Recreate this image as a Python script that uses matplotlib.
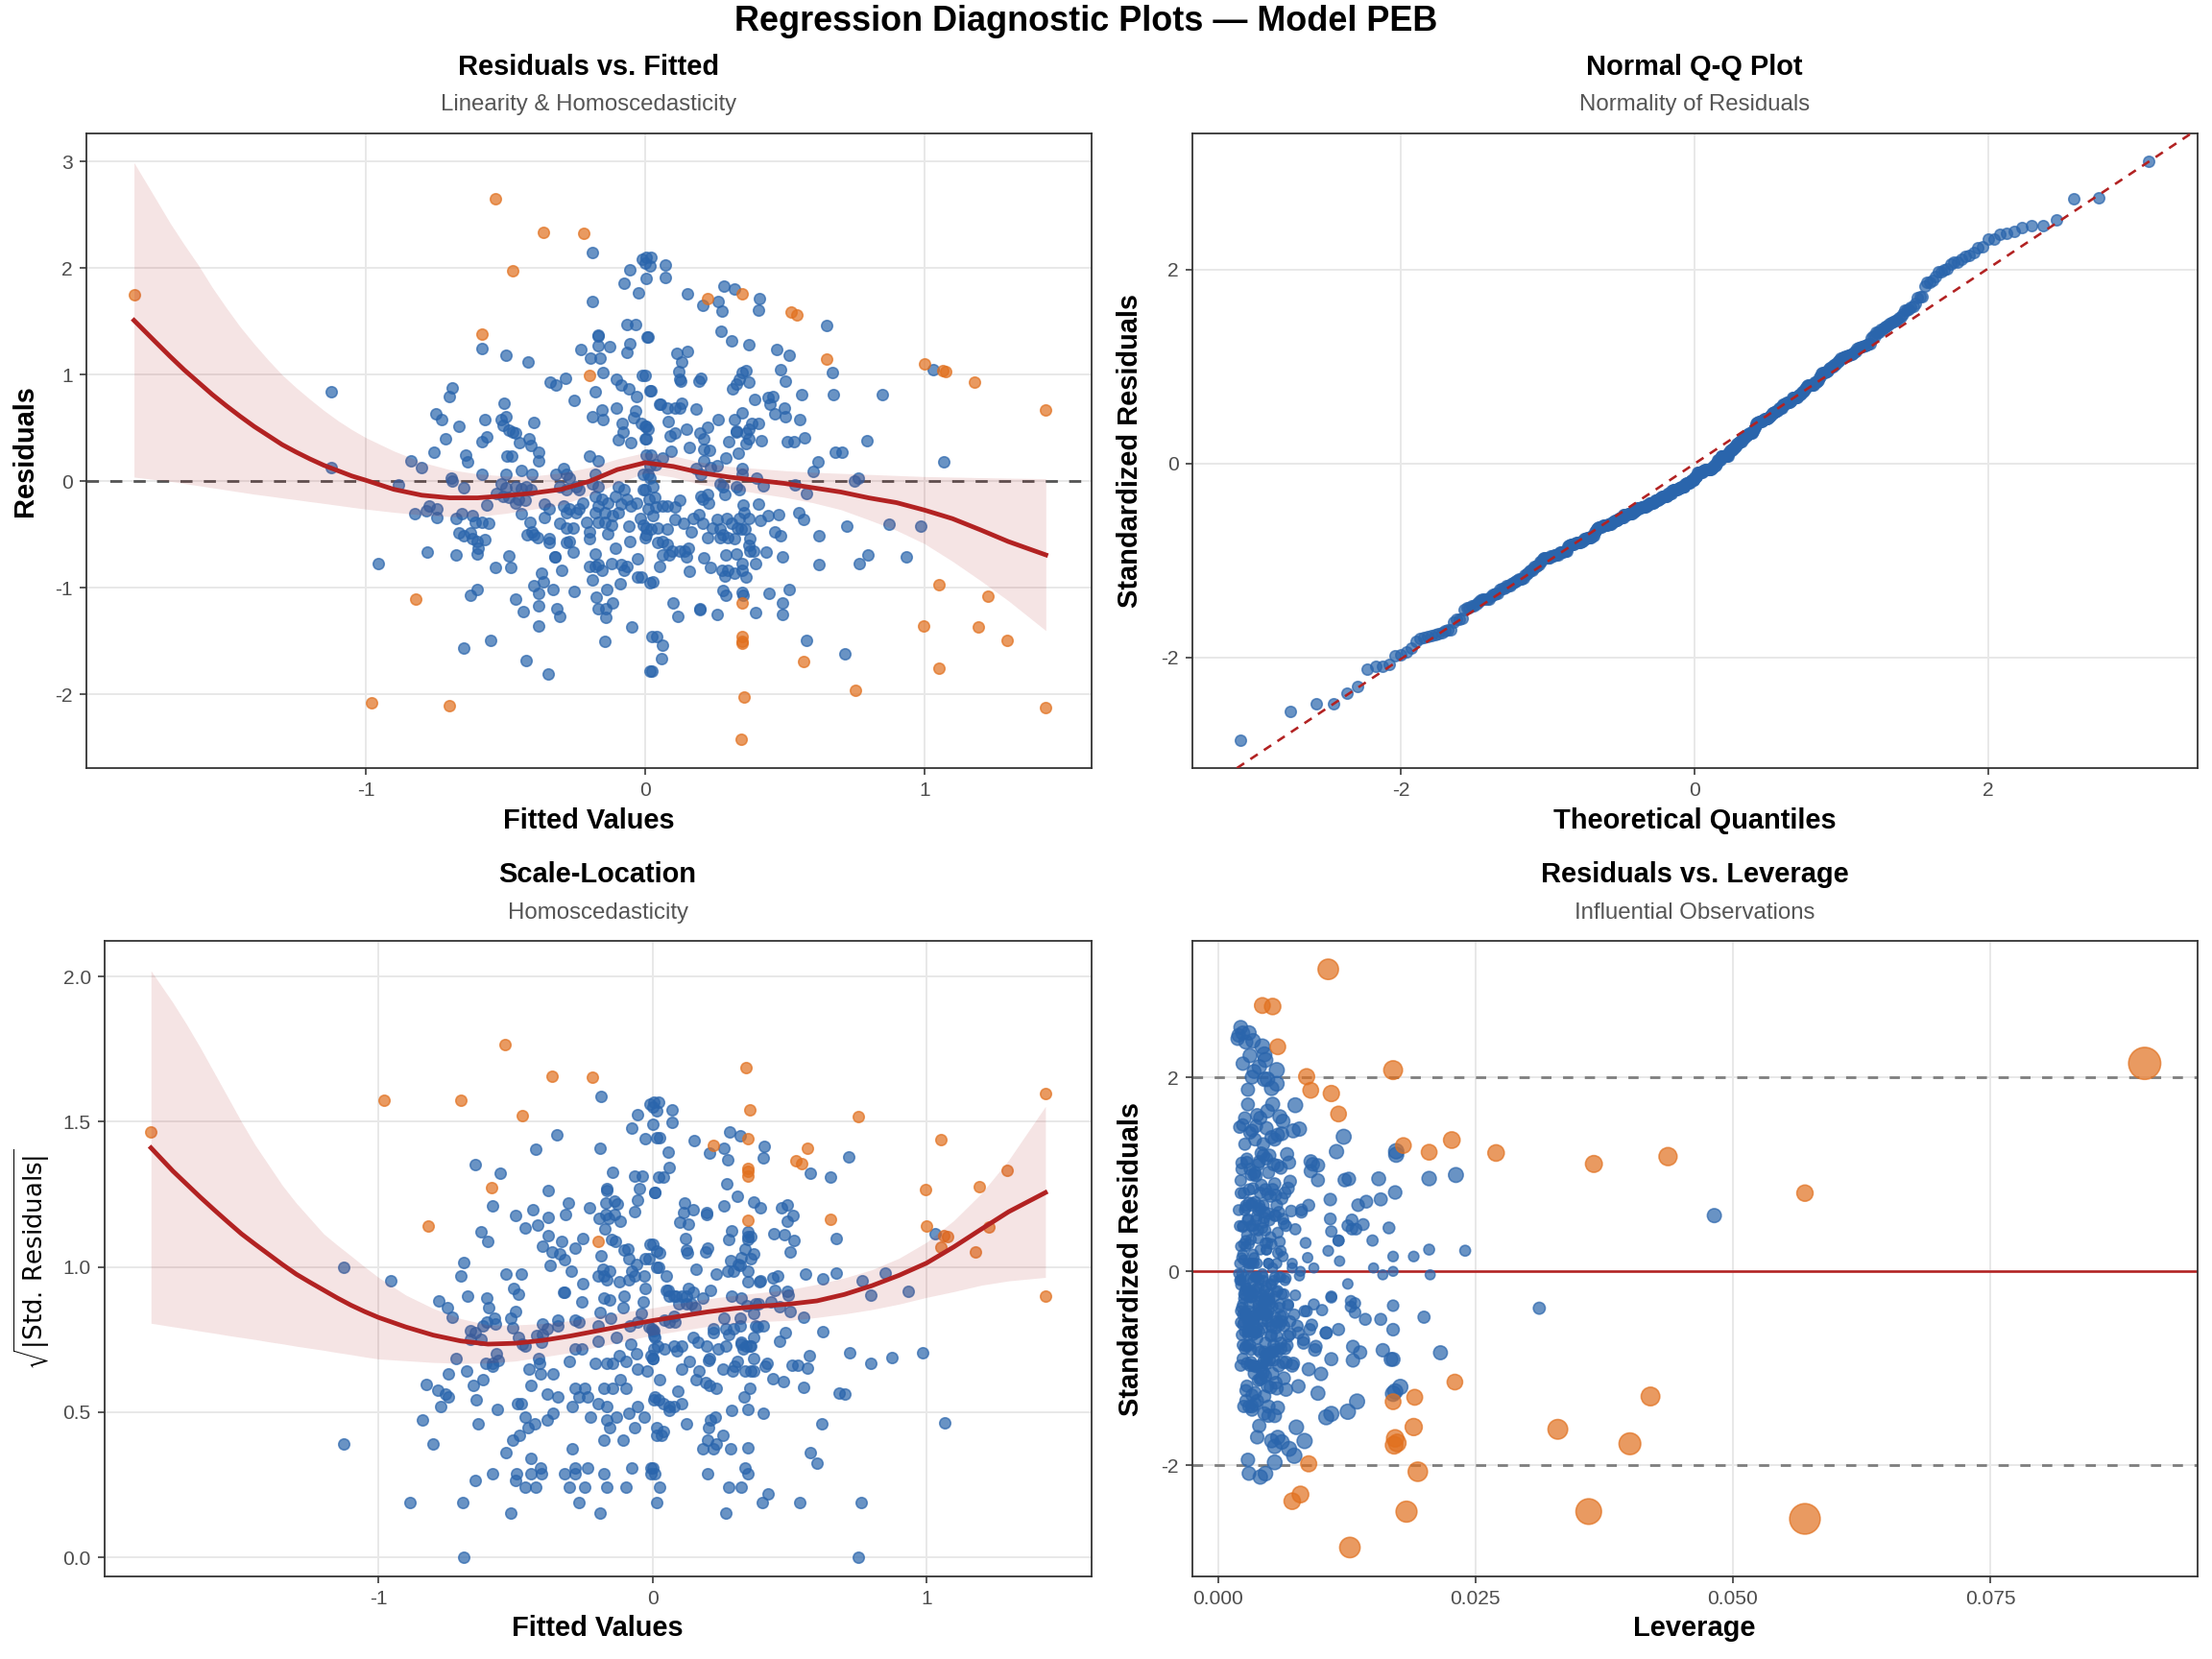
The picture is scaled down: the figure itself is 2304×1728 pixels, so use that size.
import numpy as np
import matplotlib
matplotlib.use("Agg")
import matplotlib.pyplot as plt
from matplotlib.ticker import FormatStrFormatter
from statistics import NormalDist

plt.rcParams['font.family'] = ['Liberation Sans', 'DejaVu Sans']
plt.rcParams['axes.unicode_minus'] = False
plt.rcParams['mathtext.fontset'] = 'dejavusans'

BLUE = '#2A65AC'
ORANGE = '#E1701E'
RED = '#B22222'

# observations: fitted value, raw residual, leverage (hat value)
fitted = [
    -1.83, -0.537, -0.366, -0.22, -0.474, -0.586, -0.20, 0.222, 0.348, 0.522,
    0.543, 0.648, 1.00, 1.064, 1.077, 1.179, 1.434, 0.343, -0.98, -0.70,
    0.355, 0.752, 1.051, 0.566, 0.348, 0.348, 0.348, 1.295, 1.194, 0.998,
    0.348, -0.82, 1.227, 1.053, 1.434,
    -0.188, -0.01, 0.005, 0.022, 0.016, 0.0, 0.073, 0.071, 0.002, -0.055,
    -0.076, -0.025, -0.19, -0.066, -0.036, 0.007, -0.167, -0.167, -0.584, -0.50,
    -0.42, -0.23, -0.17, -0.127, -0.195, -0.16, -0.056, -0.064, -0.15, -0.01,
    0.016, -0.34, -0.32, -0.284, -0.104, -0.087, -0.058, -0.03, -0.18, -0.69,
    -0.70, -0.254, -0.104, -0.033, -0.041, -0.013, 0.005, -0.19, -0.156, -0.153,
    -0.084, -0.078, -0.098, -0.053, 0.0, -0.507, -0.75, -0.73, -0.666, -0.575,
    -0.517, -0.50, -0.51, -0.488, -0.465, -0.476, -0.40, -0.568, -0.585, -0.716,
    -0.416, -0.408, -0.383, -0.383, -0.45, -0.757, -0.643, -0.635, -0.494, -0.479,
    -0.84, -0.80, -0.584, -0.694, -0.69, -0.648, -0.497, -0.444, -0.404, -0.517,
    -0.499, -0.465, -0.442, -0.425, -0.408, -0.487, -0.454, -0.431, -0.465, -0.534,
    -0.51, -0.362, -0.345, -0.32, -0.293, -0.282, -0.27, -0.305, -0.282, -0.247,
    -0.236, -0.293, -0.27, -0.282, -0.236, -0.259, -0.282, -0.305, -0.27, -0.282,
    -0.362, -0.259, -0.322, -0.298, -0.198, -0.167, -0.178, -0.19, -0.167, -0.178,
    -0.156, -0.133, -0.167, -0.144, -0.116, -0.178, -0.121, -0.133, -0.167, -0.144,
    -0.098, -0.076, -0.064, -0.098, -0.053, -0.03, -0.007, 0.01, 0.016, 0.005,
    -0.20, -0.178, -0.167, -0.178, -0.199, -0.156, -0.108, -0.056, -0.026, -0.013,
    -0.121, -0.087, -0.076, -0.064, -0.089, -0.136, -0.188, -0.253, -0.175, -0.17,
    -0.14, -0.116, -0.14, -0.047, -0.144, 0.023, 0.016, -0.348, -0.426, -0.554,
    -0.648, -0.625, -0.60, -0.465, -0.436, -0.40, -0.38, -0.373, -0.365, -0.381,
    -0.331, -0.316, -0.307, -0.38, -0.536, -0.48, -0.488, -0.78, -0.676, -0.603,
    -0.597, -0.603, -0.574, -0.62, -0.625, -0.648, -0.666, -0.677, -0.655, -0.62,
    -0.608, -0.585, -0.562, -0.566, -0.824, -0.782, -0.774, -0.746, -0.746, -0.885,
    -0.954, -0.442, -0.411, -0.405, -0.422, -0.40, -0.385, -0.345, -0.345, -0.324,
    -0.225, -0.247, -0.108, -0.087, -0.21, -0.20, -0.058, -0.018, -0.027, 0.014,
    0.01, 0.02, 0.005, -0.007, 0.016, -1.125, -1.125,
    0.151, 0.207, 0.28, 0.32, 0.262, 0.274, 0.409, 0.405, 0.648, 0.271,
    0.308, 0.371, 0.009, 0.472, 0.514, 0.671, 0.672, 0.85, 0.113, 0.13,
    0.15, 0.119, 0.128, 0.125, 0.194, 0.20, 0.0, 0.022, 0.483, 0.503,
    0.314, 0.325, 0.337, 0.348, 0.36, 0.371, 0.39, 0.44, 0.457, 0.445,
    0.463, 0.497, 0.503, 0.56, 0.552, 0.05, 0.056, 0.079, 0.108, 0.125,
    0.13, 0.182, 0.081, 0.0, 0.01, 0.002, 0.09, 0.108, 0.148, 0.26,
    0.222, 0.32, 0.346, 0.383, 0.406, 0.325, 0.325, 0.197, 0.209, 0.36,
    0.371, 0.299, 0.36, 0.371, 0.417, 0.159, 0.208, 0.231, 0.334, 0.289,
    0.509, 0.532, 0.572, 0.795, 0.68, 0.703, 0.617, 0.60, 0.75, 0.763,
    0.094, 0.022, 0.062, 0.039, 0.211, 0.257, 0.234, 0.182, 0.20, 0.348,
    0.348, 0.40, 0.277, 0.285, 0.268, 0.325, 0.337, 0.423, 0.537, 0.577,
    0.0, 0.027, 0.016, -0.007, 0.20, 0.222, 0.228, 0.205, 0.033, 0.039,
    0.062, 0.079, 0.108, 0.125, 0.027, 0.35, 0.354, 0.337, 0.371, 0.342,
    0.357, 0.376, 0.405, 0.411, 0.44, 0.478, 0.551, 0.566, 0.171, 0.194,
    0.165, 0.108, 0.136, 0.205, 0.257, 0.291, 0.308, 0.331, 0.239, 0.268,
    0.279, 0.297, 0.319, 0.222, 0.268, 0.005, -0.001, 0.045, 0.079, 0.062,
    0.045, 0.079, 0.096, 0.125, 0.154, 0.062, 0.085, 0.148, 0.142, 0.05,
    0.159, 0.211, 0.234, 0.274, 0.285, 0.297, 0.32, 0.348, 0.36, 0.289,
    0.325, 0.394, 0.348, 0.371, 0.388, 0.376, 0.432, 0.491, 0.463, 0.486,
    0.621, 0.621, 0.72, 0.798, 0.766, 0.873, 0.935, 0.985, 0.027, 0.279,
    0.289, 0.348, 0.35, 0.443, 0.516, 0.491, 0.491, 0.394, 0.259, 0.197,
    0.197, 0.10, 0.117, 0.577, 0.715, 0.041, 0.062, 0.058, 0.025, 1.03,
    1.068,
]

resid = [
    1.75, 2.65, 2.34, 2.33, 1.975, 1.38, 0.99, 1.71, 1.76, 1.59,
    1.56, 1.145, 1.10, 1.04, 1.03, 0.93, 0.67, -2.42, -2.08, -2.10,
    -2.02, -1.96, -1.75, -1.69, -1.46, -1.50, -1.52, -1.49, -1.37, -1.36,
    -1.14, -1.10, -1.08, -0.965, -2.12,
    2.15, 2.08, 2.10, 2.10, 2.02, 2.05, 2.03, 1.91, 1.90, 1.98,
    1.86, 1.77, 1.69, 1.47, 1.47, 1.35, 1.375, 1.36, 1.25, 1.18,
    1.12, 1.24, 1.27, 1.26, 1.16, 1.16, 1.29, 1.21, 1.02, 0.99,
    0.85, 0.93, 0.90, 0.965, 0.956, 0.90, 0.87, 0.80, 0.84, 0.88,
    0.80, 0.76, 0.69, 0.66, 0.60, 0.54, 0.52, 0.605, 0.67, 0.58,
    0.54, 0.46, 0.39, 0.36, 0.40, 0.73, 0.63, 0.58, 0.52, 0.58,
    0.58, 0.61, 0.53, 0.48, 0.45, 0.46, 0.55, 0.42, 0.37, 0.40,
    0.40, 0.34, 0.27, 0.19, 0.36, 0.27, 0.25, 0.18, 0.24, 0.24,
    0.19, 0.13, 0.07, 0.03, 0.0, -0.06, 0.07, 0.10, 0.07, -0.02,
    -0.06, -0.05, -0.07, -0.05, -0.08, -0.15, -0.17, -0.18, -0.20, -0.11,
    -0.14, -0.21, -0.26, 0.07, 0.12, 0.07, 0.03, -0.05, -0.08, -0.05,
    -0.08, -0.23, -0.26, -0.29, -0.26, -0.44, -0.44, -0.39, -0.56, -0.57,
    -0.34, -0.66, -0.71, -0.83, 0.24, 0.19, 0.07, -0.02, -0.05, -0.14,
    -0.17, -0.20, -0.23, -0.29, -0.32, -0.29, -0.41, -0.49, -0.38, -0.38,
    -0.05, -0.08, -0.17, -0.29, -0.23, -0.20, -0.08, 0.07, 0.15, 0.25,
    -0.54, -0.68, -0.78, -0.80, -0.80, -0.83, -0.63, -0.56, -0.73, -0.90,
    -0.77, -0.78, -0.83, -0.80, -0.96, -1.01, -0.92, -1.03, -1.09, -1.19,
    -1.19, -1.14, -1.28, -1.37, -1.50, -1.46, -1.78, -1.81, -1.68, -1.49,
    -1.56, -1.07, -1.01, -1.10, -1.22, -0.98, -1.05, -0.86, -0.94, -1.17,
    -1.01, -1.19, -1.27, -1.36, -0.81, -0.81, -0.70, -0.66, -0.69, -0.68,
    -0.63, -0.56, -0.55, -0.54, -0.48, -0.51, -0.48, -0.35, -0.30, -0.32,
    -0.38, -0.38, -0.39, -0.22, -0.30, -0.28, -0.23, -0.26, -0.34, -0.03,
    -0.77, -0.30, -0.38, -0.47, -0.50, -0.50, -0.53, -0.57, -0.54, -0.71,
    -0.20, -0.29, -0.14, -0.21, -0.38, -0.47, -0.42, -0.35, -0.90, -0.17,
    -0.26, -0.45, -0.50, -0.41, -0.95, 0.84, 0.13,
    1.76, 1.65, 1.83, 1.80, 1.69, 1.60, 1.71, 1.61, 1.46, 1.41,
    1.32, 1.28, 1.35, 1.235, 1.18, 1.02, 0.81, 0.81, 1.20, 1.12,
    1.22, 1.03, 0.94, 0.955, 0.94, 0.965, 0.99, 0.85, 1.05, 0.94,
    0.87, 0.91, 0.96, 1.02, 1.04, 0.93, 0.77, 0.79, 0.80, 0.72,
    0.63, 0.69, 0.61, 0.81, 0.58, 0.72, 0.72, 0.69, 0.69, 0.69,
    0.73, 0.68, 0.56, 0.52, 0.49, 0.40, 0.43, 0.45, 0.49, 0.58,
    0.51, 0.58, 0.64, 0.54, 0.54, 0.46, 0.47, 0.45, 0.40, 0.45,
    0.49, 0.37, 0.35, 0.40, 0.38, 0.32, 0.30, 0.29, 0.26, 0.22,
    0.37, 0.37, 0.41, 0.38, 0.27, 0.27, 0.18, 0.09, 0.0, 0.03,
    0.28, 0.25, 0.22, 0.16, 0.19, 0.15, 0.13, 0.12, 0.07, 0.12,
    0.07, 0.03, -0.05, -0.12, -0.02, -0.05, -0.08, -0.04, -0.03, -0.11,
    -0.08, -0.05, 0.03, 0.07, -0.14, -0.12, -0.20, -0.17, -0.15, -0.24,
    -0.23, -0.23, -0.24, -0.18, -0.32, -0.22, -0.29, -0.35, -0.35, -0.45,
    -0.45, -0.54, -0.21, -0.37, -0.32, -0.31, -0.29, -0.36, -0.35, -0.31,
    -0.47, -0.36, -0.39, -0.39, -0.36, -0.35, -0.39, -0.44, -0.44, -0.45,
    -0.50, -0.53, -0.54, -0.53, -0.53, -0.44, -0.53, -0.44, -0.45, -0.56,
    -0.57, -0.59, -0.65, -0.65, -0.63, -0.69, -0.69, -0.71, -0.65, -0.80,
    -0.84, -0.72, -0.81, -0.83, -0.89, -0.83, -0.86, -0.83, -0.90, -0.69,
    -0.68, -0.77, -0.77, -0.60, -0.65, -0.65, -0.66, -0.71, -0.47, -0.51,
    -0.51, -0.78, -0.42, -0.69, -0.77, -0.40, -0.71, -0.42, -0.94, -1.02,
    -1.07, -1.04, -1.07, -1.05, -1.01, -1.14, -1.25, -1.23, -1.25, -1.19,
    -1.20, -1.14, -1.27, -1.49, -1.62, -1.46, -1.54, -1.66, -1.78, 1.05,
    0.18,
]

leverage = [
    0.0900, 0.0107, 0.0043, 0.0053, 0.0058, 0.0117, 0.0437, 0.0086, 0.0170, 0.0090,
    0.0110, 0.0227, 0.0180, 0.0205, 0.0270, 0.0365, 0.0570, 0.0128, 0.0360, 0.0183,
    0.0072, 0.0080, 0.0194, 0.0088, 0.0172, 0.0174, 0.0171, 0.0400, 0.0330, 0.0190,
    0.0170, 0.0191, 0.0420, 0.0230, 0.0570,
    0.0022, 0.0020, 0.0024, 0.0030, 0.0027, 0.0019, 0.0034, 0.0045, 0.0031, 0.0043,
    0.0046, 0.0057, 0.0048, 0.0053, 0.0029, 0.0041, 0.0038, 0.0060, 0.0079, 0.0052,
    0.0026, 0.0033, 0.0021, 0.0047, 0.0036, 0.0055, 0.0024, 0.0062, 0.0044, 0.0028,
    0.0035, 0.0058, 0.0023, 0.0040, 0.0069, 0.0031, 0.0049, 0.0022, 0.0037, 0.0090,
    0.0097, 0.0042, 0.0025, 0.0051, 0.0033, 0.0020, 0.0045, 0.0030, 0.0056, 0.0027,
    0.0039, 0.0063, 0.0024, 0.0046, 0.0032, 0.0068, 0.0109, 0.0088, 0.0081, 0.0057,
    0.0044, 0.0036, 0.0071, 0.0482, 0.0050, 0.0029, 0.0041, 0.0064, 0.0075, 0.0126,
    0.0034, 0.0058, 0.0027, 0.0047, 0.0039, 0.0117, 0.0085, 0.0061, 0.0052, 0.0030,
    0.0205, 0.0170, 0.0072, 0.0093, 0.0080, 0.0066, 0.0038, 0.0025, 0.0049, 0.0043,
    0.0031, 0.0059, 0.0022, 0.0036, 0.0054, 0.0028, 0.0045, 0.0033, 0.0062, 0.0051,
    0.0040, 0.0026, 0.0048, 0.0035, 0.0023, 0.0057, 0.0030, 0.0044, 0.0021, 0.0037,
    0.0065, 0.0032, 0.0050, 0.0024, 0.0041, 0.0056, 0.0029, 0.0046, 0.0034, 0.0068,
    0.0039, 0.0027, 0.0053, 0.0042, 0.0025, 0.0047, 0.0033, 0.0020, 0.0055, 0.0038,
    0.0026, 0.0049, 0.0031, 0.0060, 0.0023, 0.0044, 0.0035, 0.0052, 0.0028, 0.0041,
    0.0036, 0.0022, 0.0058, 0.0030, 0.0045, 0.0025, 0.0040, 0.0021, 0.0034, 0.0048,
    0.0037, 0.0026, 0.0054, 0.0032, 0.0044, 0.0022, 0.0061, 0.0029, 0.0047, 0.0035,
    0.0024, 0.0050, 0.0031, 0.0066, 0.0039, 0.0028, 0.0046, 0.0057, 0.0033, 0.0025,
    0.0049, 0.0038, 0.0105, 0.0076, 0.0062, 0.0058, 0.0030, 0.0041, 0.0055, 0.0052,
    0.0069, 0.0097, 0.0078, 0.0045, 0.0033, 0.0056, 0.0027, 0.0042, 0.0064, 0.0036,
    0.0048, 0.0030, 0.0055, 0.0040, 0.0073, 0.0047, 0.0058, 0.0131, 0.0094, 0.0061,
    0.0083, 0.0052, 0.0070, 0.0105, 0.0064, 0.0089, 0.0077, 0.0086, 0.0068, 0.0059,
    0.0074, 0.0048, 0.0063, 0.0055, 0.0170, 0.0133, 0.0110, 0.0129, 0.0101, 0.0206,
    0.0170, 0.0039, 0.0026, 0.0051, 0.0034, 0.0043, 0.0029, 0.0057, 0.0036, 0.0045,
    0.0032, 0.0050, 0.0027, 0.0043, 0.0024, 0.0060, 0.0035, 0.0022, 0.0053, 0.0030,
    0.0046, 0.0025, 0.0038, 0.0056, 0.0041, 0.0231, 0.0190,
    0.0035, 0.0057, 0.0024, 0.0040, 0.0045, 0.0029, 0.0033, 0.0052, 0.0075, 0.0048,
    0.0063, 0.0037, 0.0026, 0.0073, 0.0122, 0.0173, 0.0156, 0.0205, 0.0058, 0.0044,
    0.0031, 0.0067, 0.0039, 0.0023, 0.0054, 0.0090, 0.0047, 0.0032, 0.0115, 0.0092,
    0.0036, 0.0061, 0.0028, 0.0050, 0.0042, 0.0097, 0.0055, 0.0070, 0.0123, 0.0046,
    0.0158, 0.0172, 0.0144, 0.0127, 0.0136, 0.0030, 0.0053, 0.0022, 0.0041, 0.0065,
    0.0034, 0.0048, 0.0027, 0.0059, 0.0038, 0.0021, 0.0044, 0.0029, 0.0056, 0.0033,
    0.0049, 0.0040, 0.0062, 0.0026, 0.0081, 0.0109, 0.0045, 0.0037, 0.0024, 0.0130,
    0.0055, 0.0035, 0.0110, 0.0066, 0.0043, 0.0028, 0.0051, 0.0039, 0.0060, 0.0022,
    0.0130, 0.0134, 0.0141, 0.0166, 0.0150, 0.0117, 0.0107, 0.0118, 0.0170, 0.0151,
    0.0032, 0.0046, 0.0027, 0.0058, 0.0041, 0.0024, 0.0063, 0.0035, 0.0049, 0.0087,
    0.0029, 0.0072, 0.0038, 0.0052, 0.0023, 0.0061, 0.0034, 0.0079, 0.0160, 0.0126,
    0.0044, 0.0026, 0.0053, 0.0031, 0.0047, 0.0022, 0.0064, 0.0036, 0.0028, 0.0050,
    0.0033, 0.0042, 0.0025, 0.0057, 0.0039, 0.0110, 0.0068, 0.0041, 0.0084, 0.0058,
    0.0032, 0.0105, 0.0075, 0.0047, 0.0312, 0.0129, 0.0093, 0.0133, 0.0030, 0.0053,
    0.0024, 0.0045, 0.0034, 0.0061, 0.0027, 0.0049, 0.0037, 0.0070, 0.0043, 0.0022,
    0.0056, 0.0033, 0.0078, 0.0040, 0.0029, 0.0048, 0.0026, 0.0062, 0.0035, 0.0023,
    0.0051, 0.0038, 0.0067, 0.0029, 0.0046, 0.0032, 0.0055, 0.0041, 0.0024, 0.0063,
    0.0037, 0.0050, 0.0028, 0.0072, 0.0044, 0.0034, 0.0088, 0.0059, 0.0100, 0.0039,
    0.0065, 0.0110, 0.0047, 0.0083, 0.0031, 0.0054, 0.0095, 0.0138, 0.0091, 0.0117,
    0.0170, 0.0131, 0.0143, 0.0160, 0.0168, 0.0200, 0.0216, 0.0158, 0.0042, 0.0051,
    0.0170, 0.0066, 0.0036, 0.0172, 0.0177, 0.0135, 0.0110, 0.0126, 0.0045, 0.0033,
    0.0058, 0.0027, 0.0049, 0.0084, 0.0074, 0.0038, 0.0055, 0.0029, 0.0046, 0.0173,
    0.0240,
]

# loess smooth of residuals vs fitted
rvf_x = [-1.83, -1.75, -1.7, -1.65, -1.6, -1.55, -1.5, -1.45, -1.4, -1.35,
         -1.3, -1.25, -1.2, -1.15, -1.1, -1.05, -1.0, -0.9, -0.8, -0.7,
         -0.6, -0.5, -0.4, -0.3, -0.2, -0.1, 0.0, 0.1, 0.2, 0.3,
         0.4, 0.5, 0.6, 0.7, 0.8, 0.9, 1.0, 1.1, 1.2, 1.3, 1.434]
rvf_fit = [1.51, 1.30, 1.17, 1.045, 0.93, 0.815, 0.71, 0.61, 0.515, 0.43,
           0.345, 0.275, 0.21, 0.15, 0.10, 0.05, 0.01, -0.075, -0.13, -0.155,
           -0.155, -0.135, -0.11, -0.075, 0.0, 0.11, 0.175, 0.14, 0.08, 0.04,
           0.01, -0.02, -0.06, -0.10, -0.155, -0.20, -0.27, -0.35, -0.455, -0.565,
           -0.69]
rvf_lo = [0.04, 0.015, 0.0, -0.02, -0.04, -0.06, -0.08, -0.10, -0.12, -0.137,
          -0.155, -0.172, -0.19, -0.207, -0.225, -0.243, -0.26, -0.29, -0.315, -0.33,
          -0.33, -0.30, -0.26, -0.22, -0.13, -0.02, 0.08, 0.04, -0.03, -0.07,
          -0.11, -0.15, -0.20, -0.265, -0.36, -0.46, -0.585, -0.75, -0.93, -1.12,
          -1.40]
rvf_hi = [2.99, 2.64, 2.42, 2.22, 2.03, 1.82, 1.63, 1.45, 1.29, 1.14,
          1.00, 0.88, 0.77, 0.665, 0.57, 0.485, 0.41, 0.285, 0.18, 0.11,
          0.07, 0.05, 0.05, 0.08, 0.13, 0.21, 0.27, 0.24, 0.18, 0.14,
          0.12, 0.10, 0.085, 0.075, 0.065, 0.055, 0.045, 0.04, 0.035, 0.03,
          0.025]

# loess smooth of sqrt|std resid| vs fitted
sl_x = [-1.83, -1.75, -1.7, -1.65, -1.6, -1.55, -1.5, -1.45, -1.4, -1.35,
        -1.3, -1.25, -1.2, -1.15, -1.1, -1.05, -1.0, -0.9, -0.8, -0.7,
        -0.6, -0.5, -0.4, -0.3, -0.2, -0.1, 0.0, 0.1, 0.2, 0.3,
        0.4, 0.5, 0.6, 0.7, 0.8, 0.9, 1.0, 1.1, 1.2, 1.3, 1.434]
sl_fit = [1.41, 1.33, 1.285, 1.24, 1.197, 1.155, 1.114, 1.078, 1.043, 1.008,
          0.975, 0.947, 0.92, 0.893, 0.868, 0.846, 0.826, 0.793, 0.765, 0.745,
          0.734, 0.737, 0.747, 0.762, 0.78, 0.798, 0.815, 0.83, 0.845, 0.857,
          0.865, 0.872, 0.883, 0.905, 0.935, 0.971, 1.013, 1.069, 1.13, 1.19,
          1.256]
sl_lo = [0.806, 0.794, 0.787, 0.779, 0.772, 0.764, 0.757, 0.75, 0.742, 0.735,
         0.727, 0.72, 0.713, 0.705, 0.698, 0.69, 0.683, 0.677, 0.671, 0.668,
         0.669, 0.676, 0.69, 0.705, 0.725, 0.745, 0.765, 0.78, 0.795, 0.806,
         0.812, 0.816, 0.826, 0.838, 0.853, 0.872, 0.895, 0.915, 0.937, 0.952,
         0.964]
sl_hi = [2.02, 1.91, 1.835, 1.755, 1.67, 1.585, 1.50, 1.42, 1.35, 1.28,
         1.22, 1.167, 1.114, 1.075, 1.038, 1.0, 0.964, 0.903, 0.857, 0.822,
         0.80, 0.80, 0.805, 0.815, 0.831, 0.845, 0.859, 0.875, 0.89, 0.902,
         0.912, 0.922, 0.94, 0.962, 0.99, 1.03, 1.085, 1.16, 1.253, 1.368,
         1.553]

fitted = np.array(fitted)
resid = np.array(resid)
leverage = np.array(leverage)
assert len(fitted) == len(resid) == len(leverage)

resid_se = 0.855      # residual standard error of the model
n_params = 3
cook_cut = 0.0095

std_resid = resid / (resid_se * np.sqrt(1 - leverage))
cooks = std_resid ** 2 / n_params * leverage / (1 - leverage)
infl = cooks > cook_cut
norm = ~infl

fig = plt.figure(figsize=(16, 12), dpi=144)
ax1 = fig.add_axes([0.0391, 0.5370, 0.4544, 0.3828])
ax2 = fig.add_axes([0.5389, 0.5370, 0.4544, 0.3828])
ax3 = fig.add_axes([0.0472, 0.0496, 0.4461, 0.3833])
ax4 = fig.add_axes([0.5389, 0.0496, 0.4544, 0.3833])


def style(ax, xlim, ylim, xticks, yticks, xfmt='%g', yfmt='%g'):
    ax.set_xlim(*xlim)
    ax.set_ylim(*ylim)
    ax.set_xticks(xticks)
    ax.set_yticks(yticks)
    ax.xaxis.set_major_formatter(FormatStrFormatter(xfmt))
    ax.yaxis.set_major_formatter(FormatStrFormatter(yfmt))
    ax.grid(True, color='#E8E8E8', linewidth=1.0)
    ax.set_axisbelow(True)
    for sp in ax.spines.values():
        sp.set_color('#333333')
        sp.set_linewidth(0.9)
    ax.tick_params(length=3.5, width=0.8, color='#333333',
                   labelcolor='#4D4D4D', labelsize=10.5, pad=3.5)


def titles(ax, title, subtitle):
    ax.text(0.5, 1.104, title, transform=ax.transAxes, ha='center',
            va='center', fontsize=14.5, fontweight='bold')
    ax.text(0.5, 1.044, subtitle, transform=ax.transAxes, ha='center',
            va='center', fontsize=12, color='#555555')


def labels(ax, xlabel, ylabel, ylab_x, xlab_y=-0.0826, ybold=True, ysize=14.5):
    ax.set_xlabel(xlabel, fontsize=14.5, fontweight='bold', va='center')
    ax.xaxis.set_label_coords(0.5, xlab_y)
    ax.set_ylabel(ylabel, fontsize=ysize, fontweight='bold' if ybold else 'normal',
                  va='center')
    ax.yaxis.set_label_coords(ylab_x, 0.5)


pt_kw = dict(s=33, alpha=0.7, linewidths=0.8)

# 1. residuals vs fitted
ax1.axhline(0, color='#444444', lw=1.4, ls=(0, (4.5, 4.2)), alpha=0.9, zorder=1.8)
ax1.scatter(fitted[norm], resid[norm], color=BLUE, edgecolor=BLUE, zorder=2, **pt_kw)
ax1.scatter(fitted[infl], resid[infl], color=ORANGE, edgecolor=ORANGE, zorder=2.1, **pt_kw)
ax1.fill_between(rvf_x, rvf_lo, rvf_hi, color=RED, alpha=0.12, lw=0, zorder=3)
ax1.plot(rvf_x, rvf_fit, color=RED, lw=2.4, zorder=4, solid_joinstyle='round')
style(ax1, (-2.0, 1.598), (-2.69, 3.267), [-1, 0, 1], [-2, -1, 0, 1, 2, 3])
titles(ax1, 'Residuals vs. Fitted', 'Linearity & Homoscedasticity')
labels(ax1, 'Fitted Values', 'Residuals', -0.0614)

# 2. normal Q-Q
n = len(std_resid)
nd = NormalDist()
theo = np.array([nd.inv_cdf((i - 0.5) / n) for i in range(1, n + 1)])
sample = np.sort(std_resid)
q25, q75 = np.percentile(sample, [25, 75])
t25, t75 = nd.inv_cdf(0.25), nd.inv_cdf(0.75)
slope = (q75 - q25) / (t75 - t25)
intercept = q25 - slope * t25
ax2.scatter(theo, sample, color=BLUE, edgecolor=BLUE, zorder=2, **pt_kw)
ax2.axline((0, intercept), slope=slope, color=RED, lw=1.3, ls=(0, (3.5, 3)), zorder=3)
style(ax2, (-3.42, 3.42), (-3.14, 3.41), [-2, 0, 2], [-2, 0, 2])
titles(ax2, 'Normal Q-Q Plot', 'Normality of Residuals')
labels(ax2, 'Theoretical Quantiles', 'Standardized Residuals', -0.0614)

# 3. scale-location
sqrt_abs = np.sqrt(np.abs(std_resid))
ax3.scatter(fitted[norm], sqrt_abs[norm], color=BLUE, edgecolor=BLUE, zorder=2, **pt_kw)
ax3.scatter(fitted[infl], sqrt_abs[infl], color=ORANGE, edgecolor=ORANGE, zorder=2.1, **pt_kw)
ax3.fill_between(sl_x, sl_lo, sl_hi, color=RED, alpha=0.12, lw=0, zorder=3)
ax3.plot(sl_x, sl_fit, color=RED, lw=2.4, zorder=4, solid_joinstyle='round')
style(ax3, (-2.0, 1.601), (-0.067, 2.123), [-1, 0, 1], [0, 0.5, 1.0, 1.5, 2.0],
      yfmt='%.1f')
titles(ax3, 'Scale-Location', 'Homoscedasticity')
labels(ax3, 'Fitted Values', r'$\sqrt{|\mathrm{Std.\,Residuals}|}$', -0.0736,
       xlab_y=-0.0818, ybold=False, ysize=13)

# 4. residuals vs leverage, size by Cook's distance
size = (5.0 + 30 * np.sqrt(cooks)) ** 2
for yv in (-2, 2):
    ax4.axhline(yv, color='#7F7F7F', lw=1.4, ls=(0, (3.8, 4.3)), zorder=1.8)
ax4.axhline(0, color=RED, lw=1.3, zorder=1.8)
ax4.scatter(leverage[norm], std_resid[norm], s=size[norm], color=BLUE,
            edgecolor=BLUE, alpha=0.7, linewidths=0.8, zorder=2)
order = np.argsort(-size[infl])
ax4.scatter(leverage[infl][order], std_resid[infl][order], s=size[infl][order],
            color=ORANGE, edgecolor=ORANGE, alpha=0.7, linewidths=0.8, zorder=2.1)
style(ax4, (-0.00253, 0.0951), (-3.15, 3.41), [0, 0.025, 0.05, 0.075], [-2, 0, 2],
      xfmt='%.3f')
titles(ax4, 'Residuals vs. Leverage', 'Influential Observations')
labels(ax4, 'Leverage', 'Standardized Residuals', -0.061, xlab_y=-0.0818)

fig.text(0.491, 0.9867, 'Regression Diagnostic Plots \u2014 Model PEB',
         ha='center', va='center', fontsize=18, fontweight='bold')

fig.savefig('out.png', dpi=144)
